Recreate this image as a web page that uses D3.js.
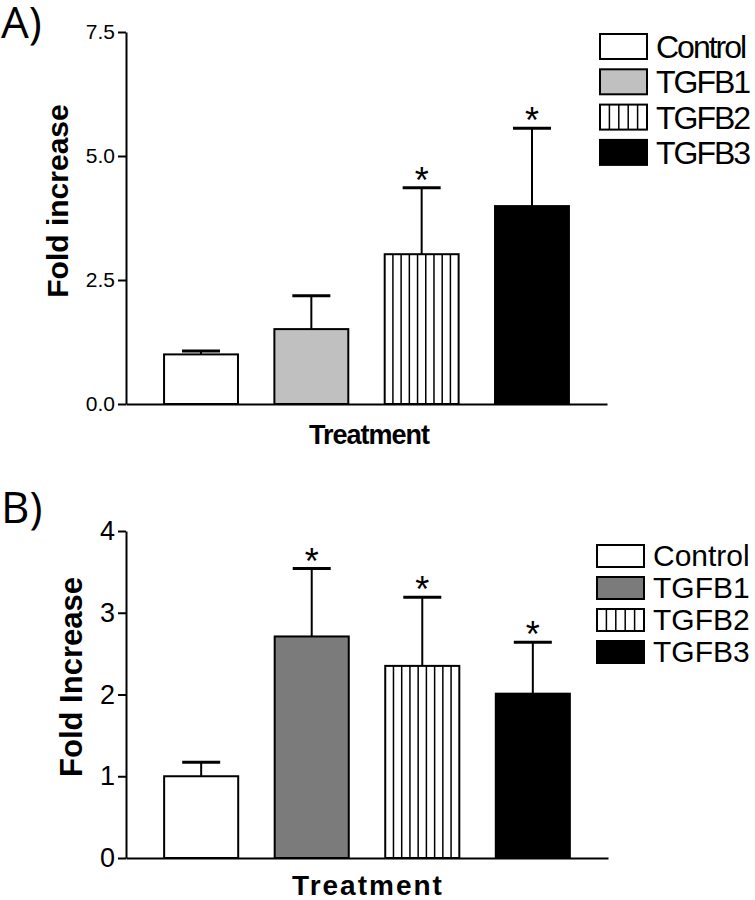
<!DOCTYPE html>
<html>
<head>
<meta charset="utf-8">
<script src="https://cdn.jsdelivr.net/npm/d3@7"></script>
<style>
  html, body { margin: 0; padding: 0; background: #fff; }
  svg { display: block; }
  text { font-family: "Liberation Sans", Arial, sans-serif; fill: #000; }
</style>
</head>
<body>
<svg id="chart" width="755" height="900"></svg>
<script>
// ---------- data ----------
const categories = ["Control", "TGFB1", "TGFB2", "TGFB3"];

const meanA = [1.0, 1.51, 3.02, 3.99];
const errA  = [0.07, 0.67, 1.34, 1.57];
const sigA  = [false, false, true, true];
const ticksA = [0, 2.5, 5.0, 7.5];

const meanB = [1.0, 2.71, 2.35, 2.01];
const errB  = [0.17, 0.83, 0.84, 0.63];
const sigB  = [false, true, true, true];
const ticksB = [0, 1, 2, 3, 4];

// ---------- drawing ----------
const svg = d3.select("#chart");

function panel(cfg) {
  const g = svg.append("g");
  const x = d3.scaleBand().domain(categories)
    .range([cfg.left, cfg.right]).paddingInner(0.33).paddingOuter(0.345);
  const y = d3.scaleLinear().domain(cfg.domain).range([cfg.bottom, cfg.top]);

  // panel label
  g.append("text").attr("x", 1).attr("y", cfg.labelY)
    .style("font-family", "'Open Sans','Noto Sans',sans-serif")
    .style("font-size", "44px").text(cfg.label);

  // y axis
  const ya = g.append("g").attr("transform", `translate(${cfg.left},0)`)
    .call(d3.axisLeft(y).tickValues(cfg.ticks).tickFormat(cfg.fmt)
      .tickSize(8).tickSizeOuter(0).tickPadding(3));
  ya.selectAll("path,line").attr("stroke", "#000").attr("stroke-width", 2);
  ya.selectAll("text").style("font-size", cfg.tickFont + "px")
    .style("font-family", "'Liberation Sans',Arial,sans-serif").attr("fill", "#000");

  // bars
  categories.forEach((c, i) => {
    const x0 = x(c), w = x.bandwidth();
    const yt = y(cfg.mean[i]), yb = y(0);
    const fill = cfg.fills[i];
    // error bar
    const ye = y(cfg.mean[i] + cfg.err[i]);
    const cx = x0 + w / 2;
    g.append("line").attr("x1", cx).attr("x2", cx).attr("y1", yt).attr("y2", ye)
      .attr("stroke", "#000").attr("stroke-width", 2);
    g.append("line").attr("x1", cx - 19).attr("x2", cx + 19).attr("y1", ye).attr("y2", ye)
      .attr("stroke", "#000").attr("stroke-width", 3);
    g.append("rect").attr("x", x0).attr("y", yt).attr("width", w).attr("height", yb - yt)
      .attr("fill", fill === "stripe" ? "#fff" : fill)
      .attr("stroke", "#000").attr("stroke-width", 2);
    if (fill === "stripe") {
      const n = 9;
      for (let k = 1; k < n; k++) {
        const xs = x0 + k * w / n;
        g.append("line").attr("x1", xs).attr("x2", xs).attr("y1", yt).attr("y2", yb)
          .attr("stroke", "#000").attr("stroke-width", 1.5);
      }
    }
    if (cfg.sig[i]) {
      g.append("text").attr("x", cx).attr("y", ye + 5)
        .attr("text-anchor", "middle").style("font-size", "36px").text("*");
    }
  });

  // x axis
  const xa = g.append("g").attr("transform", `translate(0,${cfg.bottom})`)
    .call(d3.axisBottom(d3.scaleLinear().range([cfg.left, cfg.right])).tickValues([]).tickSizeOuter(0));
  xa.selectAll("path").attr("stroke", "#000").attr("stroke-width", 2);

  // axis titles
  g.append("text").attr("transform", `translate(${cfg.ylabX},${cfg.ylabY}) rotate(-90)`)
    .attr("text-anchor", "middle").style("font-weight", "bold")
    .style("font-size", cfg.ylabFont + "px").text(cfg.ylab);
  g.append("text").attr("x", cfg.xlabX).attr("y", cfg.xlabY)
    .attr("text-anchor", "middle").style("font-weight", "bold")
    .style("font-size", cfg.xlabFont + "px").style("letter-spacing", cfg.xlabSpacing + "px")
    .text("Treatment");

  // legend
  categories.forEach((c, i) => {
    const by = cfg.legY + i * cfg.legStep;
    const fill = cfg.fills[i];
    g.append("rect").attr("x", cfg.legX).attr("y", by).attr("width", 47).attr("height", cfg.legH)
      .attr("fill", fill === "stripe" ? "#fff" : fill).attr("stroke", "#000").attr("stroke-width", 2);
    if (fill === "stripe") {
      for (let k = 1; k < 5; k++) {
        const xs = cfg.legX + k * 47 / 5;
        g.append("line").attr("x1", xs).attr("x2", xs).attr("y1", by).attr("y2", by + cfg.legH)
          .attr("stroke", "#000").attr("stroke-width", 1.5);
      }
    }
    g.append("text").attr("x", cfg.legX + 56).attr("y", by + cfg.legH - 1)
      .style("font-size", cfg.legFont + "px").style("letter-spacing", cfg.legSpacing + "px")
      .text(c);
  });
}

panel({
  label: "A)", labelY: 38,
  left: 126, right: 607, top: 32, bottom: 404, domain: [0, 7.5],
  ticks: ticksA, fmt: d3.format(".1f"), tickFont: 21,
  mean: meanA, err: errA, sig: sigA,
  fills: ["#fff", "#c0c0c0", "stripe", "#000"],
  ylab: "Fold increase", ylabX: 68, ylabY: 201, ylabFont: 30,
  xlabX: 369, xlabY: 444, xlabFont: 27, xlabSpacing: -1,
  legX: 600, legY: 34, legStep: 35.3, legH: 25, legFont: 32, legSpacing: -2
});

panel({
  label: "B)", labelY: 523,
  left: 126, right: 608, top: 531, bottom: 858, domain: [0, 4],
  ticks: ticksB, fmt: d3.format("d"), tickFont: 27,
  mean: meanB, err: errB, sig: sigB,
  fills: ["#fff", "#7b7b7b", "stripe", "#000"],
  ylab: "Fold Increase", ylabX: 82, ylabY: 677, ylabFont: 31,
  xlabX: 368, xlabY: 895, xlabFont: 28, xlabSpacing: 2,
  legX: 597, legY: 545, legStep: 32, legH: 22, legFont: 30, legSpacing: 0
});
</script>
</body>
</html>
